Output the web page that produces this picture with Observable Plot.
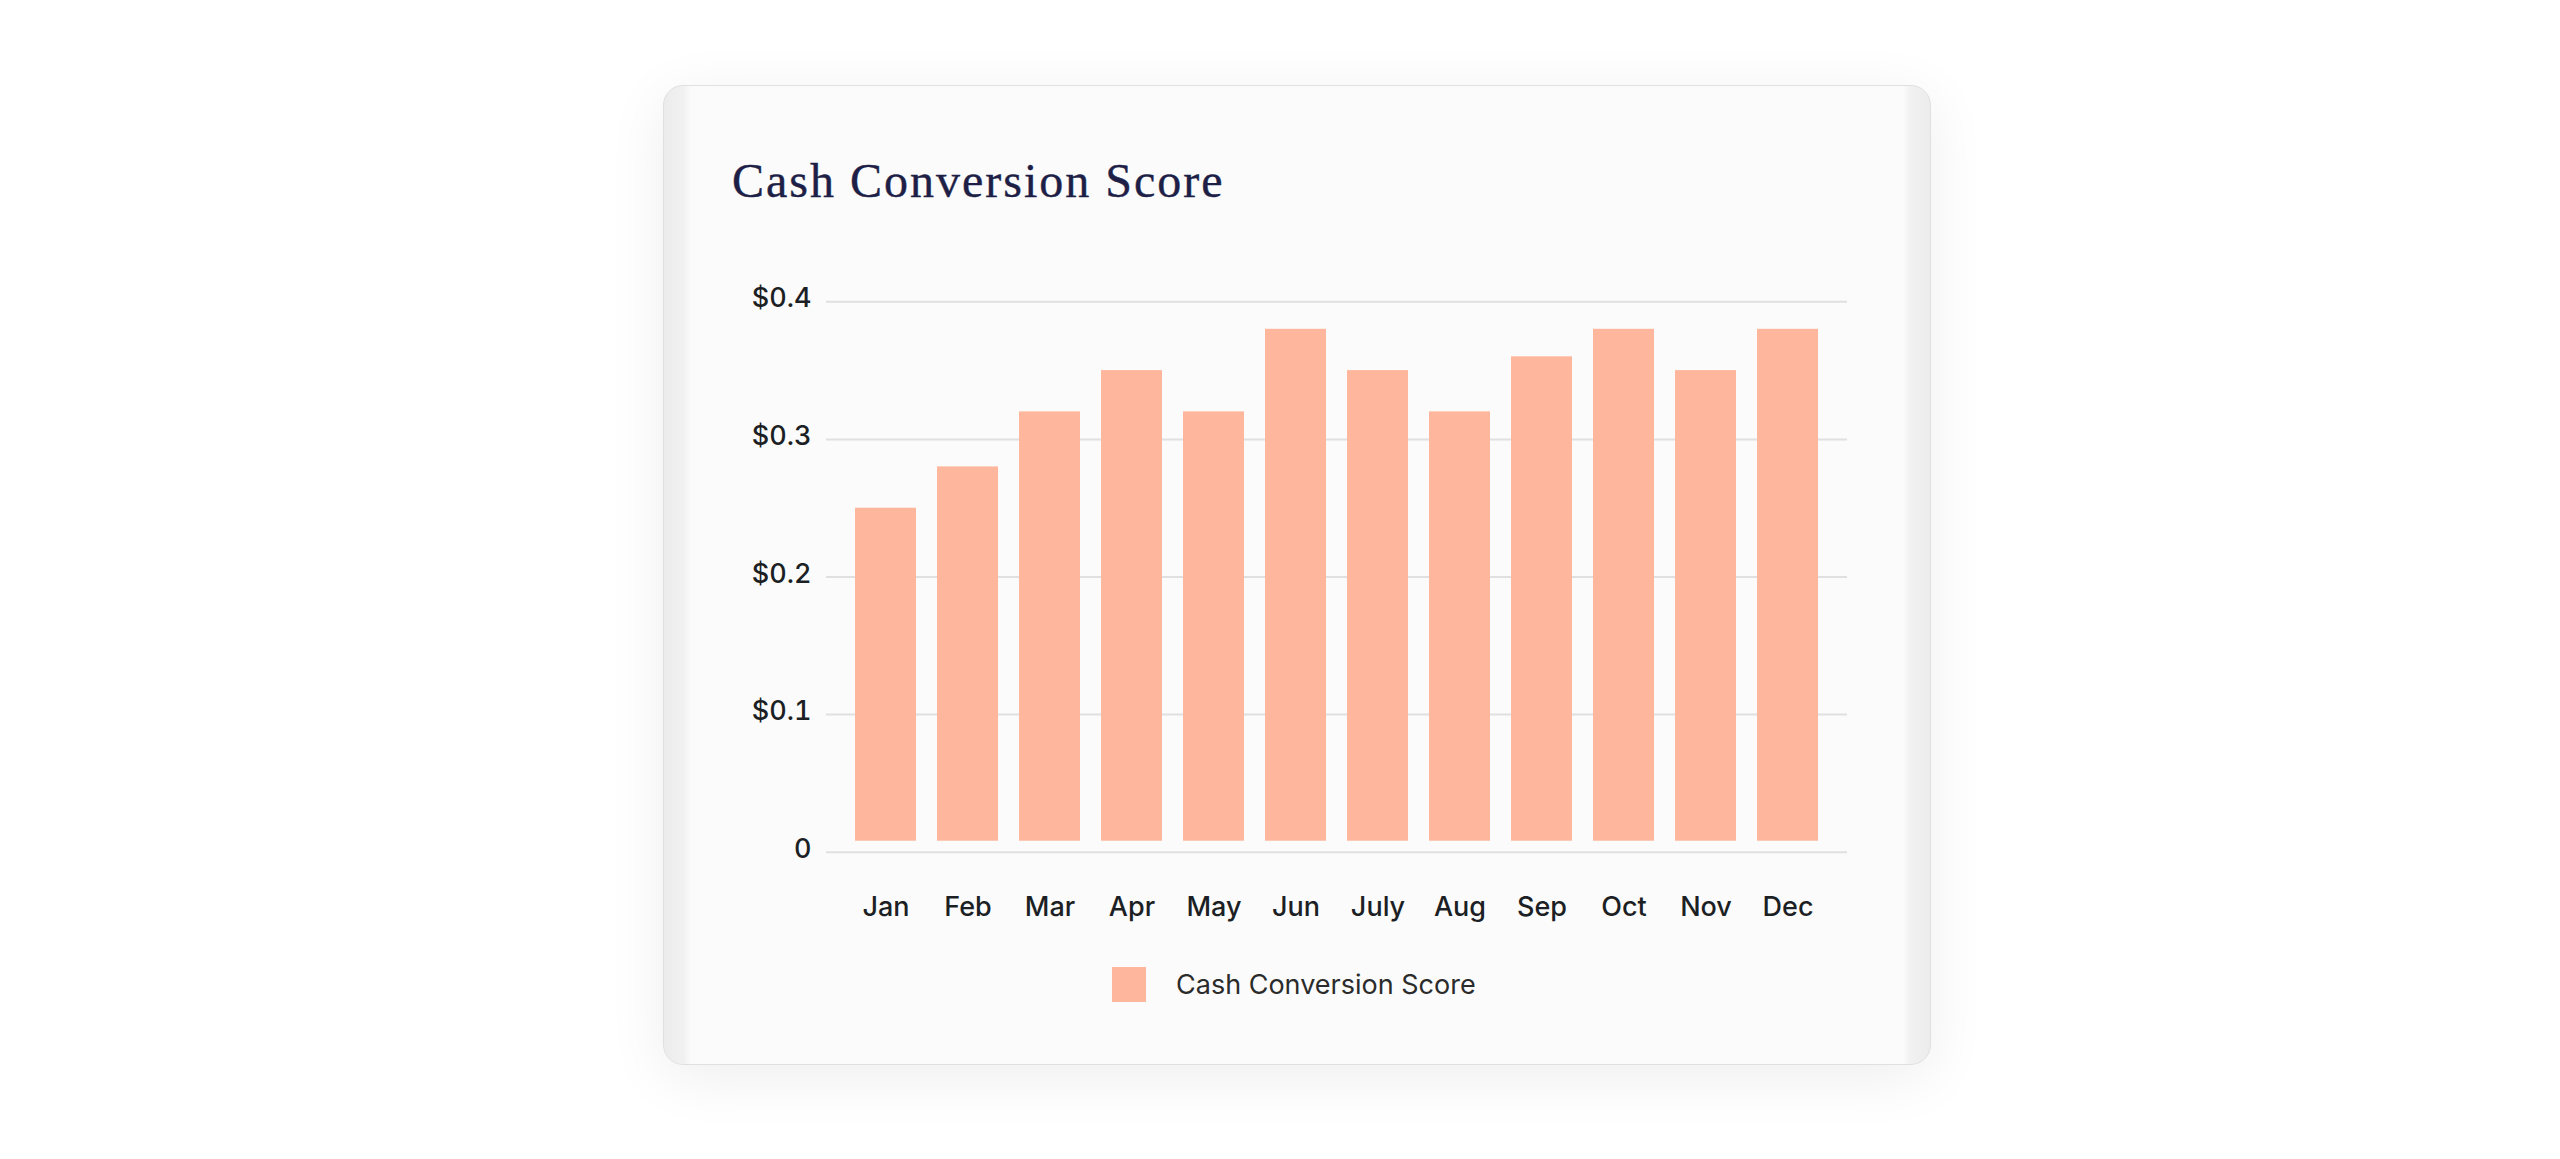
<!DOCTYPE html>
<html>
<head>
<meta charset="utf-8">
<script src="https://cdn.jsdelivr.net/npm/d3@7"></script>
<script src="https://cdn.jsdelivr.net/npm/@observablehq/plot@0.6"></script>
<style>
  html, body { margin: 0; padding: 0; background: #ffffff; }
  body { width: 2560px; height: 1159px; position: relative; overflow: hidden; }
  .card {
    position: absolute; left: 663px; top: 85px; width: 1268px; height: 980px;
    box-sizing: border-box; border: 1.5px solid #e0e0e0; border-radius: 20px;
    background: linear-gradient(to right, #ececec 0px, #f1f1f1 20px, #fbfbfb 27px, #fbfbfb calc(100% - 27px), #f1f1f1 calc(100% - 20px), #ececec 100%);
    box-shadow: 0 12px 60px rgba(0,0,0,0.07);
  }
  .title {
    position: absolute; left: 732px; top: 157px; line-height: 48px; font-size: 48px;
    font-family: "Liberation Serif", serif; color: #1e1f47; letter-spacing: 2px; white-space: nowrap;
    -webkit-text-stroke: 0.4px #1e1f47;
  }
  #chart { position: absolute; left: 663px; top: 260px; }
  .swatch { position: absolute; left: 1112px; top: 967px; width: 34px; height: 35px; background: #feb69c; }
  .legend-text {
    position: absolute; left: 1176px; top: 971px; line-height: 27px; font-size: 27px;
    font-family: Inter, sans-serif; color: #2b2b2b; white-space: nowrap;
  }
</style>
</head>
<body>
<div class="card"></div>
<div class="title">Cash Conversion Score</div>
<div id="chart"></div>
<div class="swatch"></div>
<div class="legend-text">Cash Conversion Score</div>
<script>
const months = ["Jan", "Feb", "Mar", "Apr", "May", "Jun", "July", "Aug", "Sep", "Oct", "Nov", "Dec"];
const scores = [0.25, 0.28, 0.32, 0.35, 0.32, 0.38, 0.35, 0.32, 0.36, 0.38, 0.35, 0.38];
const yTicks = [0, 0.1, 0.2, 0.3, 0.4];
const seriesName = "Cash Conversion Score";

const data = months.map((m, i) => ({month: m, score: scores[i], series: seriesName}));
const fmt = d => d === 0 ? "0" : "$" + d3.format(".1f")(d);

const chart = Plot.plot({
  width: 1268,
  height: 700,
  marginTop: 41.3,
  marginBottom: 108.3,
  marginLeft: 166.5,
  marginRight: 88.5,
  style: {background: "transparent", fontFamily: "Inter, sans-serif", fontSize: "27px", color: "#1c1f24"},
  x: {domain: months, padding: 0.26, label: null, axis: null},
  y: {domain: [0, 0.4], label: null, axis: null},
  marks: [
    Plot.ruleY(yTicks, {stroke: "#e0e0e0", strokeWidth: 2, insetLeft: -3.5, insetRight: -4.5}),
    Plot.barY(data, {x: "month", y: "score", fill: "#feb69c", insetBottom: 11}),
    Plot.axisY(yTicks, {tickSize: 0, tickPadding: 18.5, tickFormat: fmt, fontSize: 27, fontWeight: 500, dy: -3, label: null}),
    Plot.axisX({tickSize: 0, tickPadding: 45, fontSize: 27, fontWeight: 500, label: null})
  ]
});
document.getElementById("chart").appendChild(chart);
</script>
</body>
</html>
